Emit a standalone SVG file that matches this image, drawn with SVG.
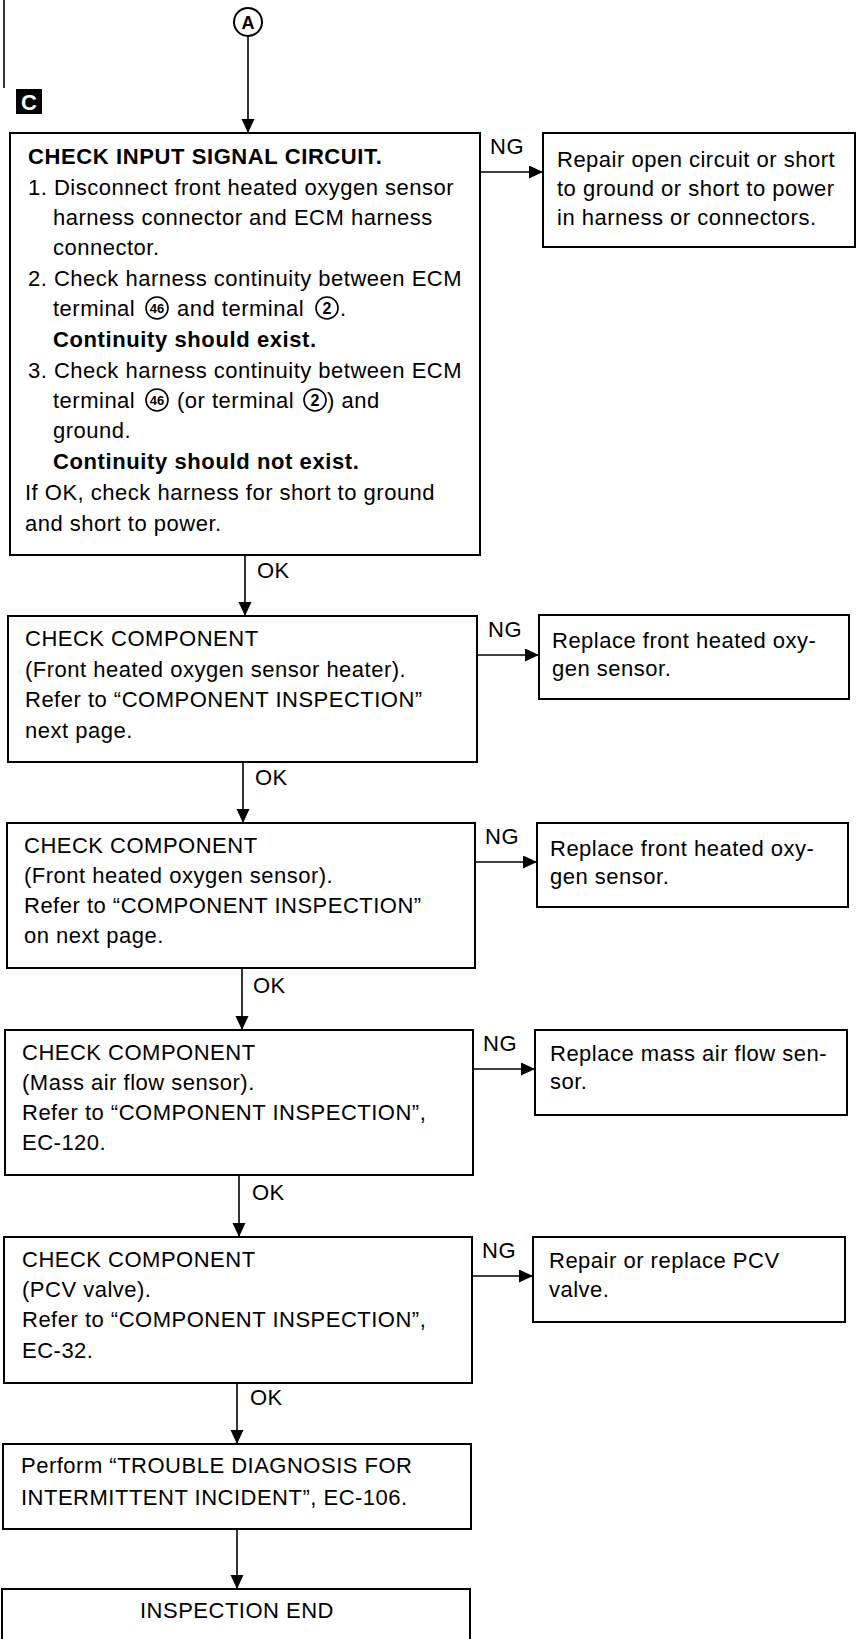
<svg xmlns="http://www.w3.org/2000/svg" width="857" height="1639" viewBox="0 0 857 1639">
<style>
text{font-family:"Liberation Sans",Arial,sans-serif;font-size:22px;fill:#000;letter-spacing:0.5px}
.b{font-weight:bold;letter-spacing:0.6px}
.box{fill:#fff;stroke:#000;stroke-width:2}
.ln{fill:none;stroke:#000;stroke-width:1.6}
.cn{fill:none;stroke:#000;stroke-width:1.6}
.cnum{font-weight:bold;text-anchor:middle;letter-spacing:0}
.cc{fill:none;stroke:#000;stroke-width:1.6}
</style>
<defs>
<marker id="ah" markerUnits="userSpaceOnUse" markerWidth="15" markerHeight="14" refX="14" refY="6.5" orient="auto">
<path d="M0,0 L14,6.5 L0,13 z" fill="#000"/>
</marker>
</defs>
<rect width="857" height="1639" fill="#fff"/>

<g id="margin">
<line x1="4" y1="0" x2="4" y2="88" class="ln"/>
</g>

<g id="nodeA">
<circle cx="248" cy="22" r="14" fill="#fff" stroke="#000" stroke-width="2"/>
<text x="248" y="29" class="b" style="font-size:18px;letter-spacing:0" text-anchor="middle">A</text>
</g>

<g id="badgeC">
<rect x="16" y="89" width="26" height="25" fill="#000"/>
<text x="29" y="110" class="b" style="fill:#fff;font-size:22px;letter-spacing:0" text-anchor="middle">C</text>
</g>

<g id="connectors">
<line x1="248" y1="37" x2="248" y2="133" class="cn" marker-end="url(#ah)"/>
<line x1="245" y1="555" x2="245" y2="616" class="cn" marker-end="url(#ah)"/>
<line x1="243" y1="762" x2="243" y2="823" class="cn" marker-end="url(#ah)"/>
<line x1="242" y1="968" x2="242" y2="1030" class="cn" marker-end="url(#ah)"/>
<line x1="239" y1="1175" x2="239" y2="1237" class="cn" marker-end="url(#ah)"/>
<line x1="237" y1="1383" x2="237" y2="1444" class="cn" marker-end="url(#ah)"/>
<line x1="237" y1="1529" x2="237" y2="1589" class="cn" marker-end="url(#ah)"/>
<line x1="480" y1="172" x2="543" y2="172" class="cn" marker-end="url(#ah)"/>
<line x1="477" y1="655" x2="539" y2="655" class="cn" marker-end="url(#ah)"/>
<line x1="475" y1="862" x2="537" y2="862" class="cn" marker-end="url(#ah)"/>
<line x1="473" y1="1069" x2="535" y2="1069" class="cn" marker-end="url(#ah)"/>
<line x1="472" y1="1276" x2="533" y2="1276" class="cn" marker-end="url(#ah)"/>
<text x="257" y="578">OK</text>
<text x="255" y="785">OK</text>
<text x="253" y="993">OK</text>
<text x="252" y="1200">OK</text>
<text x="250" y="1405">OK</text>
<text x="490" y="154">NG</text>
<text x="488" y="637">NG</text>
<text x="485" y="844">NG</text>
<text x="483" y="1051">NG</text>
<text x="482" y="1258">NG</text>
</g>

<g id="box1">
<rect x="10" y="133" width="470" height="422" class="box"/>
<text x="28" y="164" class="b">CHECK INPUT SIGNAL CIRCUIT.</text>
<text x="28" y="195">1. Disconnect front heated oxygen sensor</text>
<text x="53" y="225">harness connector and ECM harness</text>
<text x="53" y="255">connector.</text>
<text x="28" y="286">2. Check harness continuity between ECM</text>
<text x="53" y="316">terminal</text>
<circle cx="157" cy="308" r="11" class="cc"/>
<text x="157" y="313" class="cnum" style="font-size:13px">46</text>
<text x="177" y="316">and terminal</text>
<circle cx="327" cy="308" r="11" class="cc"/>
<text x="327" y="314" class="cnum" style="font-size:16px">2</text>
<text x="340" y="316">.</text>
<text x="53" y="347" class="b">Continuity should exist.</text>
<text x="28" y="378">3. Check harness continuity between ECM</text>
<text x="53" y="408">terminal</text>
<circle cx="157" cy="400" r="11" class="cc"/>
<text x="157" y="405" class="cnum" style="font-size:13px">46</text>
<text x="177" y="408">(or terminal</text>
<circle cx="315" cy="400" r="11" class="cc"/>
<text x="315" y="406" class="cnum" style="font-size:16px">2</text>
<text x="327" y="408">) and</text>
<text x="53" y="438">ground.</text>
<text x="53" y="469" class="b">Continuity should not exist.</text>
<text x="25" y="500">If OK, check harness for short to ground</text>
<text x="25" y="531">and short to power.</text>
</g>

<g id="ng1">
<rect x="543" y="133" width="312" height="114" class="box"/>
<text x="557" y="167">Repair open circuit or short</text>
<text x="557" y="196">to ground or short to power</text>
<text x="557" y="225">in harness or connectors.</text>
</g>

<g id="box2">
<rect x="8" y="616" width="469" height="146" class="box"/>
<text x="25" y="646">CHECK COMPONENT</text>
<text x="25" y="677">(Front heated oxygen sensor heater).</text>
<text x="25" y="707">Refer to “COMPONENT INSPECTION”</text>
<text x="25" y="738">next page.</text>
</g>

<g id="ng2">
<rect x="539" y="615" width="310" height="84" class="box"/>
<text x="552" y="648">Replace front heated oxy-</text>
<text x="552" y="676">gen sensor.</text>
</g>

<g id="box3">
<rect x="7" y="823" width="468" height="145" class="box"/>
<text x="24" y="853">CHECK COMPONENT</text>
<text x="24" y="883">(Front heated oxygen sensor).</text>
<text x="24" y="913">Refer to “COMPONENT INSPECTION”</text>
<text x="24" y="943">on next page.</text>
</g>

<g id="ng3">
<rect x="537" y="823" width="311" height="84" class="box"/>
<text x="550" y="856">Replace front heated oxy-</text>
<text x="550" y="884">gen sensor.</text>
</g>

<g id="box4">
<rect x="5" y="1030" width="468" height="145" class="box"/>
<text x="22" y="1060">CHECK COMPONENT</text>
<text x="22" y="1090">(Mass air flow sensor).</text>
<text x="22" y="1120">Refer to “COMPONENT INSPECTION”,</text>
<text x="22" y="1150">EC-120.</text>
</g>

<g id="ng4">
<rect x="535" y="1030" width="312" height="85" class="box"/>
<text x="550" y="1061">Replace mass air flow sen-</text>
<text x="550" y="1089">sor.</text>
</g>

<g id="box5">
<rect x="4" y="1237" width="468" height="146" class="box"/>
<text x="22" y="1267">CHECK COMPONENT</text>
<text x="22" y="1297">(PCV valve).</text>
<text x="22" y="1327">Refer to “COMPONENT INSPECTION”,</text>
<text x="22" y="1358">EC-32.</text>
</g>

<g id="ng5">
<rect x="533" y="1237" width="312" height="85" class="box"/>
<text x="549" y="1268">Repair or replace PCV</text>
<text x="549" y="1297">valve.</text>
</g>

<g id="box6">
<rect x="3" y="1444" width="468" height="85" class="box"/>
<text x="21" y="1473">Perform “TROUBLE DIAGNOSIS FOR</text>
<text x="21" y="1505">INTERMITTENT INCIDENT”, EC-106.</text>
</g>

<g id="box7">
<rect x="2" y="1589" width="468" height="60" class="box"/>
<text x="237" y="1618" text-anchor="middle">INSPECTION END</text>
</g>
</svg>
